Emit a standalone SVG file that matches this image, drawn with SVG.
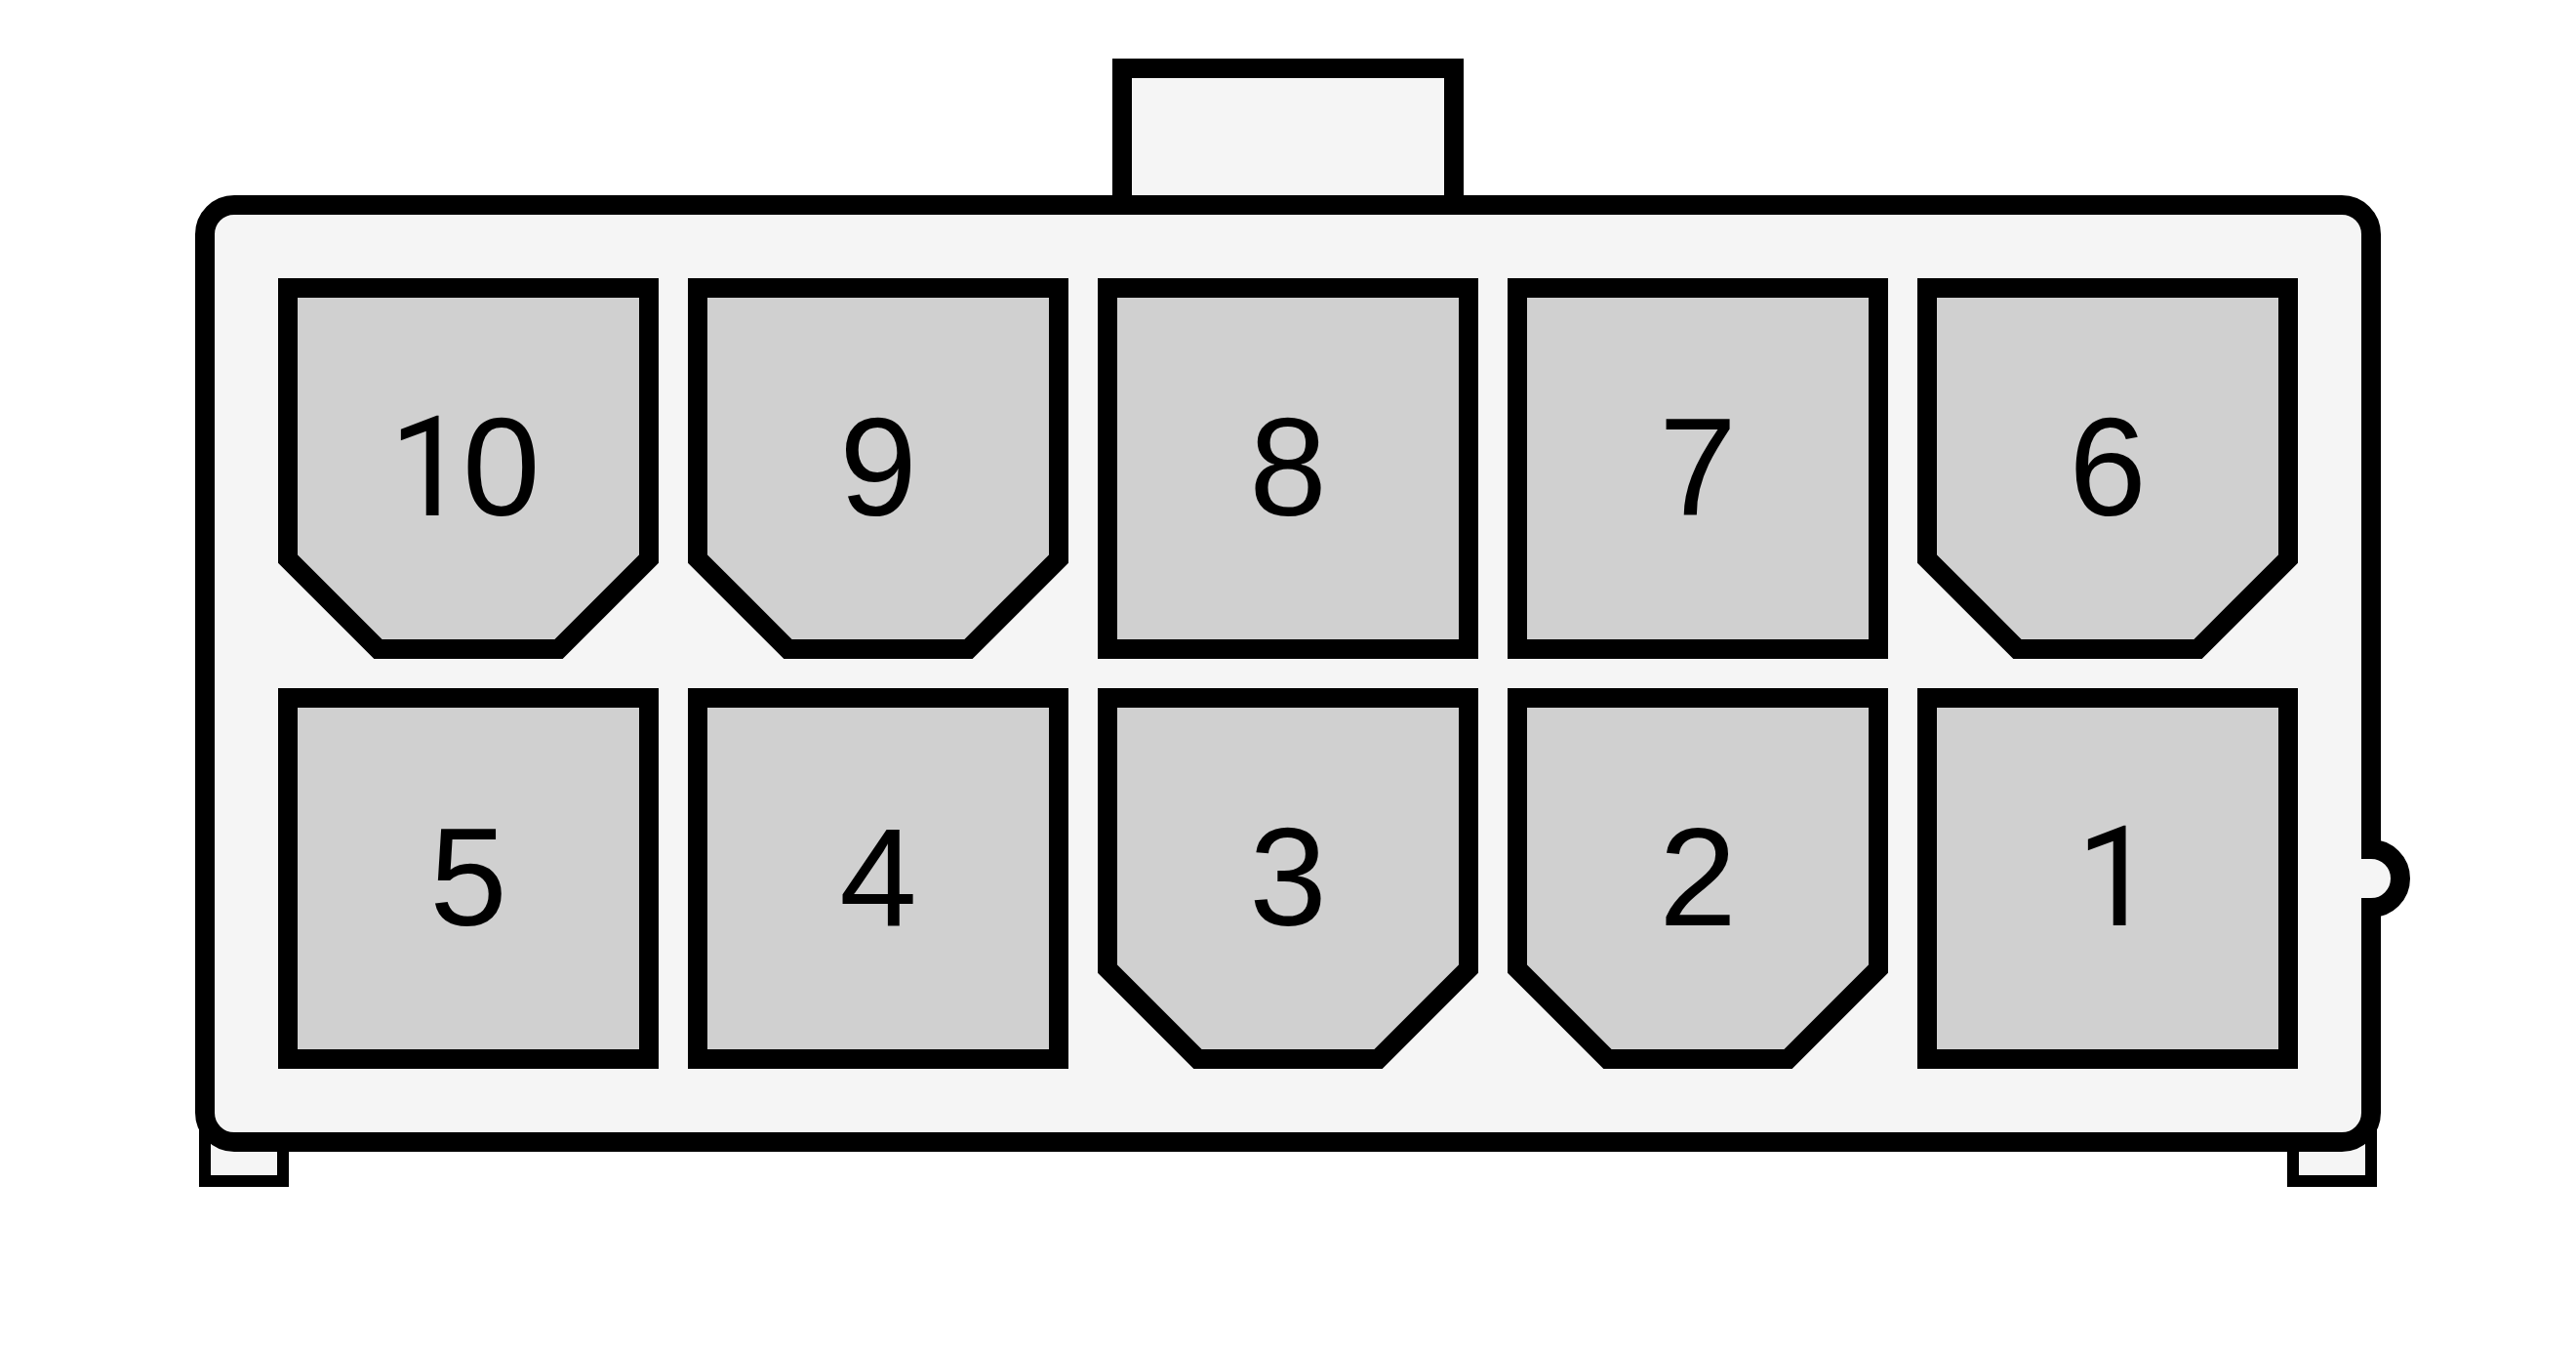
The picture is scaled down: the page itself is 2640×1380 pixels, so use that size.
<svg xmlns="http://www.w3.org/2000/svg" width="2640" height="1380" viewBox="0 0 2640 1380">
<style>
.h{fill:#f5f5f5;stroke:#000;stroke-width:20}
.foot{fill:#f5f5f5;stroke:#000;stroke-width:12}
.pin{fill:#d0d0d0;stroke:#000;stroke-width:20}
text{font-family:"Liberation Sans",Arial,sans-serif;font-size:143px;text-anchor:middle;fill:#000}
.one{font-family:Roboto,"Liberation Sans",sans-serif;font-size:142px;text-anchor:start}
</style>
<rect width="2640" height="1380" fill="#fff"/>
<g id="housing">
<rect class="h" x="1150" y="70" width="340" height="150"/>
<rect class="foot" x="210" y="1130" width="80" height="80"/>
<rect class="foot" x="2350" y="1130" width="80" height="80"/>
<rect class="h" x="210" y="210" width="2220" height="960" rx="30" ry="30"/>
<path class="h" d="M2420 870H2430A30 30 0 0 1 2430 930H2420"/>
</g>
<g id="pin-10"><path class="pin" d="M295 295H665V572.5L572.5 665H387.5L295 572.5Z"/><text y="528" style="text-anchor:start"><tspan class="one" x="399">1</tspan><tspan x="474">0</tspan></text></g>
<g id="pin-9"><path class="pin" d="M715 295H1085V572.5L992.5 665H807.5L715 572.5Z"/><text x="900" y="528">9</text></g>
<g id="pin-8"><rect class="pin" x="1135" y="295" width="370" height="370"/><text x="1320" y="528">8</text></g>
<g id="pin-7"><rect class="pin" x="1555" y="295" width="370" height="370"/><text x="1740" y="528">7</text></g>
<g id="pin-6"><path class="pin" d="M1975 295H2345V572.5L2252.5 665H2067.5L1975 572.5Z"/><text x="2160" y="528">6</text></g>
<g id="pin-5"><rect class="pin" x="295" y="715" width="370" height="370"/><text x="480" y="948">5</text></g>
<g id="pin-4"><rect class="pin" x="715" y="715" width="370" height="370"/><text x="900" y="948">4</text></g>
<g id="pin-3"><path class="pin" d="M1135 715H1505V992.5L1412.5 1085H1227.5L1135 992.5Z"/><text x="1320" y="948">3</text></g>
<g id="pin-2"><path class="pin" d="M1555 715H1925V992.5L1832.5 1085H1647.5L1555 992.5Z"/><text x="1740" y="948">2</text></g>
<g id="pin-1"><rect class="pin" x="1975" y="715" width="370" height="370"/><text class="one" x="2128" y="948">1</text></g>
<g id="connectors"/>
</svg>
